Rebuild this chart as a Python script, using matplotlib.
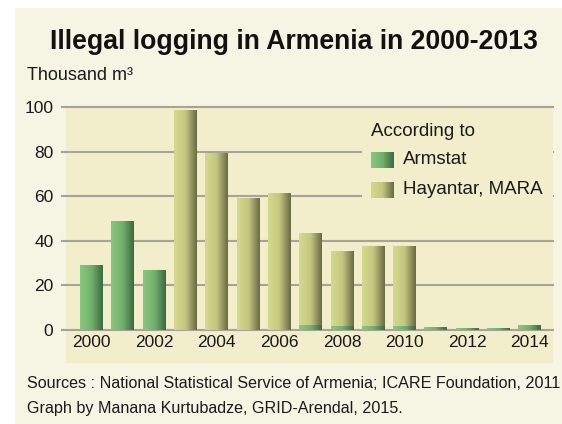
import numpy as np
import matplotlib.pyplot as plt
from matplotlib.colors import LinearSegmentedColormap
from matplotlib.patches import Rectangle

plt.rcParams['font.family'] = ['Liberation Sans', 'DejaVu Sans']

years = list(range(2000, 2015))
# Armstat figures (thousand m3); None where not reported
armstat = [29.0, 48.5, 26.5, None, None, None, None, 1.8, 1.4, 1.4, 1.4, 1.3, 0.8, 0.8, 1.8]
# Hayantar / MARA estimates
hayantar_years = [2003, 2004, 2005, 2006, 2007, 2008, 2009, 2010]
hayantar = [98.5, 79.3, 59.1, 61.3, 43.4, 35.4, 37.6, 37.6]

yticks = [0, 20, 40, 60, 80, 100]
xticks = [2000, 2002, 2004, 2006, 2008, 2010, 2012, 2014]

outer_bg = '#f6f4e3'
plot_bg = '#f2eecb'
green_cm = LinearSegmentedColormap.from_list('g', ['#88c87d', '#72b16d', '#3d6a41'])
olive_cm = LinearSegmentedColormap.from_list('o', ['#d5da8b', '#c3c77f', '#6a6b45'])
grad = np.linspace(0, 1, 64).reshape(1, -1)
bar_w = 0.73

W, H = 562, 424
fig = plt.figure(figsize=(W / 100, H / 100), dpi=100)
fig.patch.set_facecolor('white')
fig.patches.append(Rectangle((15 / W, 0), 1, 1 - 8 / H, transform=fig.transFigure,
                             facecolor=outer_bg, edgecolor='none', zorder=-10))

ax = fig.add_axes([66 / W, (H - 363) / H, 487 / W, 256 / H])
ax.set_facecolor(plot_bg)
for s in ax.spines.values():
    s.set_visible(False)


def gradient_bar(x, h, cmap, z):
    ax.imshow(grad, cmap=cmap, aspect='auto', interpolation='bilinear',
              extent=(x - bar_w / 2, x + bar_w / 2, 0, h), zorder=z)


for yr, v in zip(hayantar_years, hayantar):
    gradient_bar(yr, v, olive_cm, 3)
for yr, v in zip(years, armstat):
    if v is not None:
        gradient_bar(yr, v, green_cm, 4)

for t in yticks:
    ax.axhline(t, xmin=-4 / 487, xmax=1, color='#a5a39a', lw=1.5, zorder=1, clip_on=False)

ax.set_xlim(1999.185, 2014.74)
ax.set_ylim(-14.8, 100)
ax.set_yticks(yticks)
ax.set_xticks(xticks)
ax.tick_params(axis='both', length=0, labelsize=12.5, colors='#1a1a1a')
ax.tick_params(axis='y', pad=9)
ax.tick_params(axis='x', pad=-20)

# legend block
ax.add_patch(Rectangle(((362 - 66) / 487, (363 - 228) / 256), 1, 118 / 256,
                       transform=ax.transAxes, facecolor=plot_bg, edgecolor='none', zorder=2))
ax.text((371 - 66) / 487, (363 - 131) / 256, 'According to', transform=ax.transAxes,
        fontsize=13.5, va='center', ha='left', color='#1a1a1a', zorder=5)
for label, cm, py in [('Armstat', green_cm, 160), ('Hayantar, MARA', olive_cm, 190)]:
    ax.imshow(grad, cmap=cm, aspect='auto', interpolation='bilinear', transform=ax.transAxes,
              extent=((371 - 66) / 487, (394 - 66) / 487, (363 - py - 8) / 256, (363 - py + 8) / 256),
              zorder=5)
    ax.text((403 - 66) / 487, (363 - py) / 256, label, transform=ax.transAxes,
            fontsize=13.5, va='center', ha='left', color='#1a1a1a', zorder=5)

fig.text(294 / W, 1 - 42 / H, 'Illegal logging in Armenia in 2000-2013', ha='center', va='center',
         fontsize=19.2, fontweight='bold', color='#111111')
fig.text(27 / W, 1 - 76 / H, 'Thousand m³', ha='left', va='center', fontsize=13, color='#1a1a1a')
fig.text(27 / W, 1 - 383 / H, 'Sources : National Statistical Service of Armenia; ICARE Foundation, 2011',
         ha='left', va='center', fontsize=11.6, color='#1a1a1a')
fig.text(27 / W, 1 - 408 / H, 'Graph by Manana Kurtubadze, GRID-Arendal, 2015.',
         ha='left', va='center', fontsize=11.6, color='#1a1a1a')

fig.savefig('out.png', dpi=100, facecolor=fig.get_facecolor())
